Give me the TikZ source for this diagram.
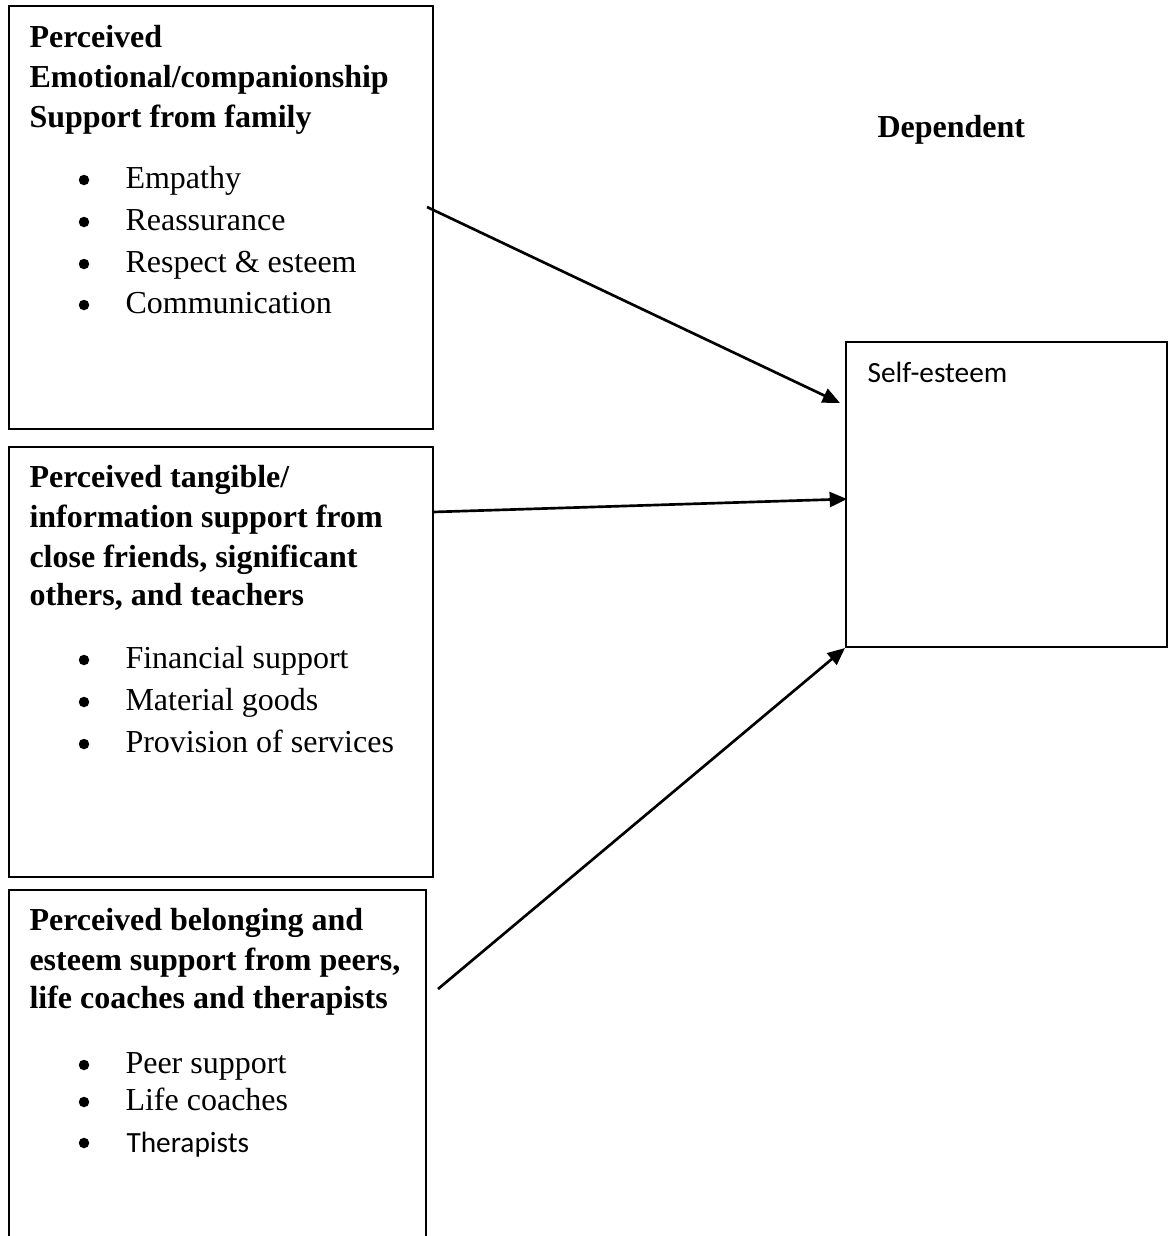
\documentclass[tikz,border=0pt]{standalone}
\usepackage{fontspec}
\setmainfont{Liberation Serif}
\newfontfamily\calibri{Carlito}
\usetikzlibrary{arrows.meta}
\newdimen\pxu \pxu=0.375pt
\tikzset{
  boxnode/.style={draw, line width=0.5pt, inner sep=0pt, rectangle},
  headline/.style={anchor=base west, inner sep=0pt, font=\fontsize{12}{14}\selectfont\bfseries},
  itemline/.style={anchor=base west, inner sep=0pt, font=\fontsize{12}{14}\selectfont},
  sansline/.style={anchor=base west, inner sep=0pt, font=\fontsize{11}{13}\calibri},
  bul/.style={circle, fill=black, inner sep=0pt, minimum size=10.5\pxu},
  conn/.style={line width=1pt, -{Triangle[length=6.5pt, width=5.6pt]}}
}
\begin{document}
\begin{tikzpicture}[x=0.375pt, y=-0.375pt]
\clip (0,0) rectangle (1169,1236);
\fill[white] (0,0) rectangle (1169,1236);
% boxes
\node[boxnode, minimum width=424\pxu, minimum height=423\pxu] (b1) at (221,217.5) {};
\node[boxnode, minimum width=424\pxu, minimum height=430\pxu] (b2) at (221,662) {};
\node[boxnode, minimum width=417\pxu, minimum height=500\pxu] (b3) at (217.5,1140) {};
\node[boxnode, minimum width=321\pxu, minimum height=305\pxu] (se) at (1006.5,494.5) {};
% box 1 text
\node[headline] (h1a) at (29,47) {Perceived};
\node[headline] (h1b) at (29,87) {Emotional/companionship};
\node[headline] (h1c) at (29,127) {Support from family};
\node[bul] (p1a) at (84,180) {};
\node[itemline] (i1a) at (125,188) {Empathy};
\node[bul] (p1b) at (84,222) {};
\node[itemline] (i1b) at (125,230) {Reassurance};
\node[bul] (p1c) at (84,264) {};
\node[itemline] (i1c) at (125,272) {Respect \& esteem};
\node[bul] (p1d) at (84,305) {};
\node[itemline] (i1d) at (125,313) {Communication};
% box 2 text
\node[headline] (h2a) at (29,487) {Perceived tangible/};
\node[headline] (h2b) at (29,527) {information support from};
\node[headline] (h2c) at (29,567) {close friends, significant};
\node[headline] (h2d) at (29,605) {others, and teachers};
\node[bul] (p2a) at (84,660) {};
\node[itemline] (i2a) at (125,668) {Financial support};
\node[bul] (p2b) at (84,702) {};
\node[itemline] (i2b) at (125,710) {Material goods};
\node[bul] (p2c) at (84,744) {};
\node[itemline] (i2c) at (125,752) {Provision of services};
% box 3 text
\node[headline] (h3a) at (29,930) {Perceived belonging and};
\node[headline] (h3b) at (29,970) {esteem support from peers,};
\node[headline] (h3c) at (29,1008) {life coaches and therapists};
\node[bul] (p3a) at (84,1065) {};
\node[itemline] (i3a) at (125,1073) {Peer support};
\node[bul] (p3b) at (84,1102) {};
\node[itemline] (i3b) at (125,1110) {Life coaches};
\node[bul] (p3c) at (84,1143) {};
\node[sansline] (i3c) at (126,1152) {Therapists};
% dependent
\node[headline] (dep) at (877,137) {Dependent};
\node[sansline] (set) at (867,382) {Self-esteem};
% connectors
\coordinate (s1) at (427,207);
\coordinate (e1) at (840,403);
\coordinate (s2) at (433,512);
\coordinate (e2) at (847,499);
\coordinate (s3) at (438,989);
\coordinate (e3) at (845,648);
\draw[conn] (s1) -- (e1);
\draw[conn] (s2) -- (e2);
\draw[conn] (s3) -- (e3);
\end{tikzpicture}
\end{document}
